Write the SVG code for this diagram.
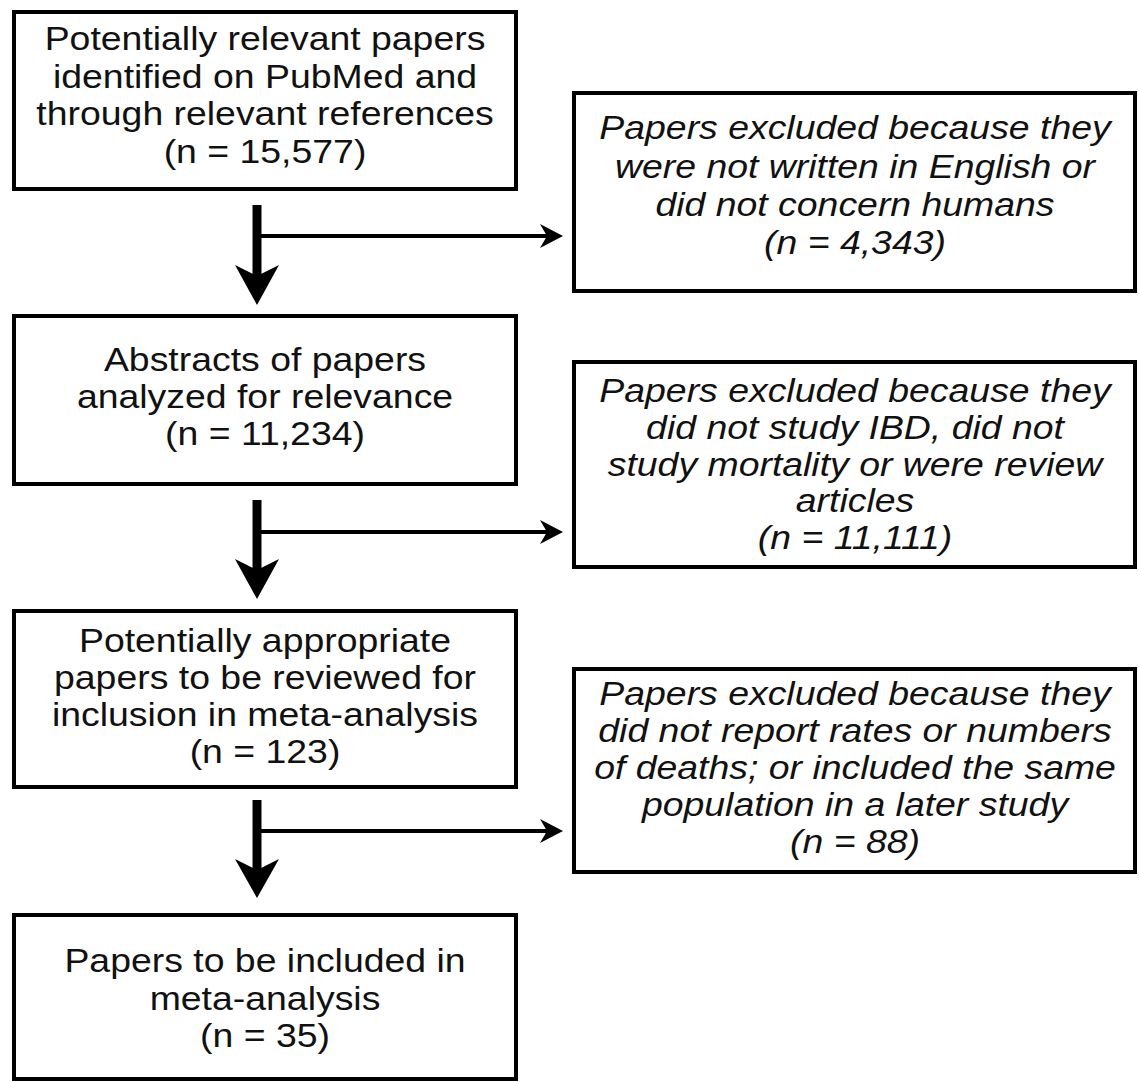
<svg xmlns="http://www.w3.org/2000/svg" width="1139" height="1082" viewBox="0 0 1139 1082">
<style>
.box{fill:#fff;stroke:#000;stroke-width:4}
.t{font-family:"Liberation Sans",Arial,sans-serif;font-size:34px;fill:#111;text-anchor:middle}
.i{font-style:italic}
.stem{stroke:#000;stroke-width:9;fill:none}
.branch{stroke:#000;stroke-width:4;fill:none}
.head{fill:#000}
</style>
<rect width="1139" height="1082" fill="#fff"/>
<g id="connectors">
  <line class="stem" x1="257" y1="205" x2="257" y2="285"/>
  <polygon class="head" points="257,305 235,265 257,276 279,265"/>
  <line class="branch" x1="257" y1="236" x2="552" y2="236"/>
  <polygon class="head" points="563,236 540,224 547,236 540,248"/>

  <line class="stem" x1="257" y1="500" x2="257" y2="580"/>
  <polygon class="head" points="257,599 235,559 257,570 279,559"/>
  <line class="branch" x1="257" y1="532" x2="552" y2="532"/>
  <polygon class="head" points="563,532 540,520 547,532 540,544"/>

  <line class="stem" x1="257" y1="800" x2="257" y2="880"/>
  <polygon class="head" points="257,898 235,859 257,870 279,859"/>
  <line class="branch" x1="257" y1="831" x2="552" y2="831"/>
  <polygon class="head" points="563,831 540,819 547,831 540,843"/>
</g>
<g id="n1">
  <rect class="box" x="14" y="12" width="502" height="177"/>
  <g transform="translate(265 0) scale(1.1 1)">
    <text class="t" x="0" y="50">Potentially relevant papers</text>
    <text class="t" x="0" y="88">identified on PubMed and</text>
    <text class="t" x="0" y="125">through relevant references</text>
    <text class="t" x="0" y="163">(n = 15,577)</text>
  </g>
</g>
<g id="e1">
  <rect class="box" x="574" y="93" width="561" height="198"/>
  <g transform="translate(855 0) scale(1.1 1)">
    <text class="t i" x="0" y="139">Papers excluded because they</text>
    <text class="t i" x="0" y="178">were not written in English or</text>
    <text class="t i" x="0" y="216">did not concern humans</text>
    <text class="t i" x="0" y="254">(n = 4,343)</text>
  </g>
</g>
<g id="n2">
  <rect class="box" x="14" y="316" width="502" height="168"/>
  <g transform="translate(265 0) scale(1.1 1)">
    <text class="t" x="0" y="371">Abstracts of papers</text>
    <text class="t" x="0" y="408">analyzed for relevance</text>
    <text class="t" x="0" y="445">(n = 11,234)</text>
  </g>
</g>
<g id="e2">
  <rect class="box" x="574" y="362" width="561" height="205"/>
  <g transform="translate(855 0) scale(1.1 1)">
    <text class="t i" x="0" y="402">Papers excluded because they</text>
    <text class="t i" x="0" y="439">did not study IBD, did not</text>
    <text class="t i" x="0" y="476">study mortality or were review</text>
    <text class="t i" x="0" y="512">articles</text>
    <text class="t i" x="0" y="549">(n = 11,111)</text>
  </g>
</g>
<g id="n3">
  <rect class="box" x="14" y="611" width="502" height="176"/>
  <g transform="translate(265 0) scale(1.1 1)">
    <text class="t" x="0" y="652">Potentially appropriate</text>
    <text class="t" x="0" y="689">papers to be reviewed for</text>
    <text class="t" x="0" y="726">inclusion in meta-analysis</text>
    <text class="t" x="0" y="763">(n = 123)</text>
  </g>
</g>
<g id="e3">
  <rect class="box" x="574" y="669" width="561" height="203"/>
  <g transform="translate(855 0) scale(1.1 1)">
    <text class="t i" x="0" y="705">Papers excluded because they</text>
    <text class="t i" x="0" y="742">did not report rates or numbers</text>
    <text class="t i" x="0" y="779">of deaths; or included the same</text>
    <text class="t i" x="0" y="816">population in a later study</text>
    <text class="t i" x="0" y="853">(n = 88)</text>
  </g>
</g>
<g id="n4">
  <rect class="box" x="14" y="915" width="502" height="164"/>
  <g transform="translate(265 0) scale(1.1 1)">
    <text class="t" x="0" y="972">Papers to be included in</text>
    <text class="t" x="0" y="1010">meta-analysis</text>
    <text class="t" x="0" y="1047">(n = 35)</text>
  </g>
</g>
</svg>
